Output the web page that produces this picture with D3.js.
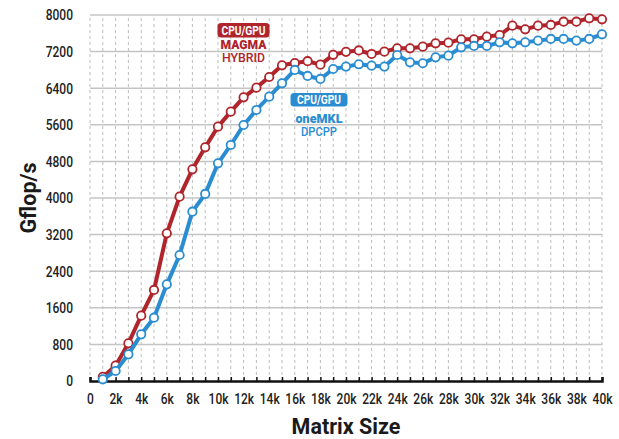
<!DOCTYPE html>
<html>
<head>
<meta charset="utf-8">
<script src="https://cdn.jsdelivr.net/npm/d3@7"></script>
<style>
	body { margin: 0; background: #fff; }
	svg text { font-family: Roboto, "DejaVu Sans", sans-serif; }
</style>
</head>
<body>
<div id="chart"></div>
<script>
//===== DATA =====//

var sizes = d3.range(1, 41); // matrix size in k
var magmaHybrid = [90, 335, 824, 1428, 1990, 3228, 4029, 4627, 5108, 5560,
	5887, 6201, 6412, 6645, 6900, 6950, 6990, 6915, 7130, 7195,
	7225, 7148, 7199, 7272, 7272, 7308, 7381, 7396, 7469, 7469,
	7527, 7563, 7767, 7687, 7767, 7782, 7854, 7854, 7928, 7906];
var onemklDpcpp = [37, 219, 583, 1020, 1384, 2113, 2754, 3701, 4088, 4759,
	5159, 5596, 5924, 6215, 6507, 6799, 6668, 6602, 6820, 6872,
	6923, 6893, 6872, 7126, 6966, 6945, 7075, 7112, 7294, 7323,
	7323, 7403, 7381, 7403, 7440, 7476, 7476, 7440, 7476, 7578];
var yTicks = [0, 800, 1600, 2400, 3200, 4000, 4800, 5600, 6400, 7200, 8000];
var xLabelTicks = d3.range(0, 41, 2);

//===== CHART =====//

var width = 619, height = 439;
var margin = {left: 90, right: 17, top: 15, bottom: 58};
var red = '#b0242b', blue = '#2a8dd2';
var narrow = 'scale(0.8,1)';

var svg = d3.select('#chart').append('svg')
	.attr('width', width)
	.attr('height', height);

var x = d3.scaleLinear().domain([0, 40]).range([margin.left, width - margin.right]);
var y = d3.scaleLinear().domain([0, 8000]).range([height - margin.bottom, margin.top]);

// vertical dashed grid
svg.append('g')
	.selectAll('line')
	.data(d3.range(0, 41))
	.enter().append('line')
	.attr('x1', function (d) { return x(d); })
	.attr('x2', function (d) { return x(d); })
	.attr('y1', y(0))
	.attr('y2', y(8000))
	.attr('stroke', '#bdbdbd')
	.attr('stroke-width', 1)
	.attr('stroke-dasharray', '3,3');

// horizontal grid
svg.append('g')
	.selectAll('line')
	.data(yTicks.slice(1))
	.enter().append('line')
	.attr('x1', x(0))
	.attr('x2', x(40))
	.attr('y1', function (d) { return y(d); })
	.attr('y2', function (d) { return y(d); })
	.attr('stroke', '#c4c4c4')
	.attr('stroke-width', 1.5);

// y axis labels
var yAxis = svg.append('g')
	.attr('transform', 'translate(' + (margin.left - 17) + ',0)')
	.call(d3.axisLeft(y).tickValues(yTicks).tickSize(0).tickPadding(0).tickFormat(d3.format('d')));
yAxis.select('.domain').remove();
yAxis.selectAll('text')
	.attr('font-size', 15)
	.attr('font-weight', 500)
	.attr('fill', '#222')
	.attr('font-family', null)
	.attr('transform', narrow);

// x axis
var xAxis = svg.append('g')
	.attr('transform', 'translate(0,' + y(0) + ')')
	.call(d3.axisBottom(x).tickValues(d3.range(0, 41)).tickSize(-4).tickFormat(''));
xAxis.select('.domain').attr('stroke', '#111').attr('stroke-width', 2.5);
xAxis.selectAll('.tick line').attr('stroke', '#111').attr('stroke-width', 1.5);

var xLabels = svg.append('g')
	.attr('transform', 'translate(0,' + y(0) + ')')
	.call(d3.axisBottom(x).tickValues(xLabelTicks).tickSize(0).tickPadding(12)
		.tickFormat(function (d) { return d === 0 ? '0' : d + 'k'; }));
xLabels.select('.domain').remove();
xLabels.selectAll('text')
	.attr('font-size', 15)
	.attr('font-weight', 500)
	.attr('fill', '#222')
	.attr('font-family', null)
	.attr('transform', narrow);

// axis titles
svg.append('text')
	.attr('transform', 'translate(36,' + ((y(0) + y(8000)) / 2) + ') rotate(-90)')
	.attr('text-anchor', 'middle')
	.attr('font-weight', 'bold')
	.attr('font-size', 21.5)
	.attr('fill', '#1a1a1a')
	.text('Gflop/s');

svg.append('text')
	.attr('x', (x(0) + x(40)) / 2)
	.attr('y', 434)
	.attr('text-anchor', 'middle')
	.attr('font-weight', 'bold')
	.attr('font-size', 21.5)
	.attr('fill', '#1a1a1a')
	.text('Matrix Size');

// series
var line = d3.line()
	.x(function (d) { return x(d[0]); })
	.y(function (d) { return y(d[1]); });

function drawSeries(values, color) {
	var pts = sizes.map(function (s, i) { return [s, values[i]]; });
	var g = svg.append('g');
	g.append('path')
		.datum(pts)
		.attr('d', line)
		.attr('fill', 'none')
		.attr('stroke', color)
		.attr('stroke-width', 4)
		.attr('stroke-linejoin', 'round');
	g.selectAll('circle')
		.data(pts)
		.enter().append('circle')
		.attr('cx', function (d) { return x(d[0]); })
		.attr('cy', function (d) { return y(d[1]); })
		.attr('r', 4.2)
		.attr('fill', '#fff')
		.attr('stroke', color)
		.attr('stroke-width', 1.8);
}

drawSeries(magmaHybrid, red);
drawSeries(onemklDpcpp, blue);

// series labels
function seriesLabel(opt) {
	var g = svg.append('g');
	g.append('rect')
		.attr('x', opt.cx - opt.boxW / 2).attr('y', opt.top)
		.attr('width', opt.boxW).attr('height', opt.boxH)
		.attr('rx', 3.5).attr('ry', 3.5)
		.attr('fill', opt.color);
	g.append('text')
		.attr('x', opt.cx - 22).attr('y', opt.top + opt.boxH - 3)
		.attr('font-weight', 'bold')
		.attr('font-size', 12)
		.attr('fill', '#fff')
		.attr('textLength', 44)
		.attr('lengthAdjust', 'spacingAndGlyphs')
		.text('CPU/GPU');
	g.append('text')
		.attr('x', opt.cx - opt.nameW / 2).attr('y', opt.nameY)
		.attr('font-weight', 900)
		.attr('font-size', 12.5)
		.attr('fill', opt.color)
		.attr('textLength', opt.nameW)
		.attr('lengthAdjust', 'spacingAndGlyphs')
		.text(opt.name);
	g.append('text')
		.attr('x', opt.cx - opt.subW / 2).attr('y', opt.subY)
		.attr('font-weight', 500)
		.attr('font-size', 12.5)
		.attr('fill', opt.color)
		.attr('textLength', opt.subW)
		.attr('lengthAdjust', 'spacingAndGlyphs')
		.text(opt.sub);
}

seriesLabel({cx: 243.5, top: 23, boxW: 52, boxH: 14.5, color: red,
	name: 'MAGMA', nameW: 46, nameY: 48.5, sub: 'HYBRID', subW: 43, subY: 61.5});
seriesLabel({cx: 319, top: 93, boxW: 57, boxH: 13.5, color: blue,
	name: 'oneMKL', nameW: 47, nameY: 122.5, sub: 'DPCPP', subW: 36, subY: 135.5});
</script>
</body>
</html>
